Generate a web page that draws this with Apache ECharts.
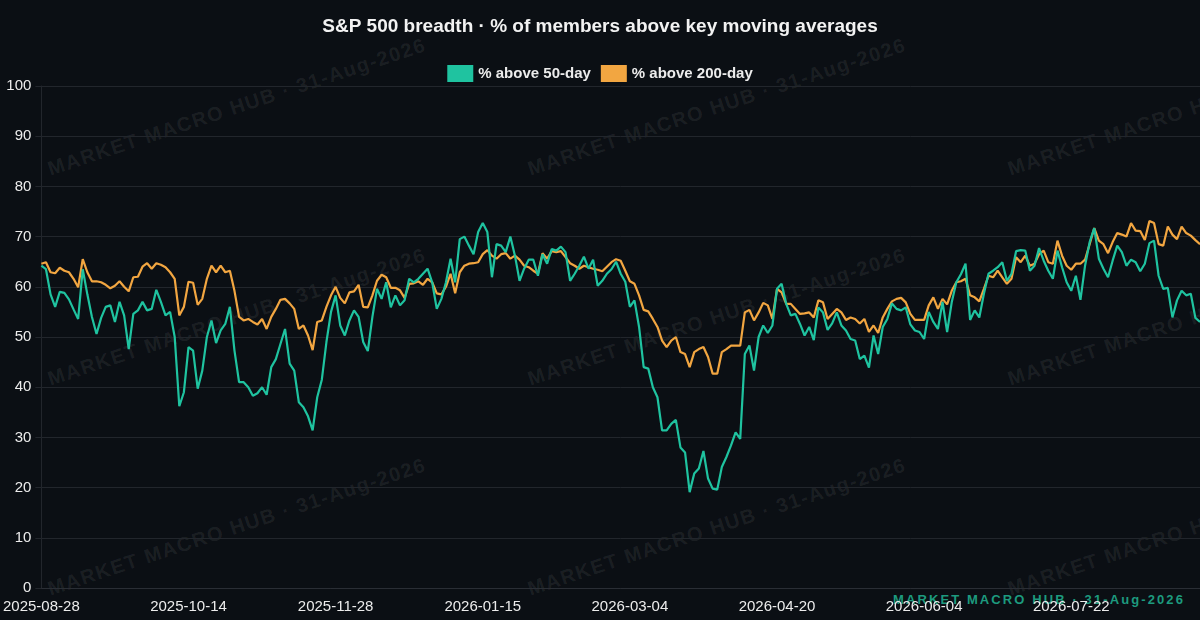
<!DOCTYPE html>
<html>
<head>
<meta charset="utf-8">
<script src="https://cdn.jsdelivr.net/npm/echarts@6/dist/echarts.min.js"></script>
<style>
  html,body{margin:0;padding:0;background:#0b0f14;}
  #wm{position:absolute;left:0;top:0;width:1200px;height:620px;overflow:hidden;z-index:0;}
  #main{position:absolute;left:0;top:0;width:1200px;height:620px;z-index:1;}
  .wmt{position:absolute;white-space:nowrap;font-family:"Liberation Sans",Arial,sans-serif;font-weight:bold;font-size:20px;letter-spacing:1.5px;color:rgba(255,255,255,0.075);transform:translate(-50%,-50%) rotate(-18.4deg);}
  #foot{position:absolute;left:893px;top:591px;white-space:nowrap;font-family:"Liberation Sans",Arial,sans-serif;font-weight:bold;font-size:13px;letter-spacing:2.1px;color:#1d9a7e;z-index:0;line-height:18px;}
</style>
</head>
<body>
<div id="wm"></div>
<div id="foot">MARKET MACRO HUB · 31-Aug-2026</div>
<div id="main"></div>
<script>
const titleText = 'S&P 500 breadth · % of members above key moving averages';
const seriesNames = ['% above 50-day', '% above 200-day'];
const watermarkText = 'MARKET MACRO HUB · 31-Aug-2026';
const startDate = '2025-08-28';
const endDate = '2026-08-31';
const marketHolidays = ['2025-09-01','2025-11-27','2025-12-25','2026-01-01','2026-01-19','2026-02-16','2026-04-03','2026-05-25','2026-06-19','2026-07-03'];

const pct50 = [
64.2,63.5,58.5,56,59,58.8,57.5,55.5,53.6,63.5,
58.5,54,50.6,53.8,56,56.3,53,57,54.3,47.6,
54.6,55.3,57,55.3,55.6,59.4,57,54.3,55,50,
36.2,39,
48,47.3,39.7,43.3,50,53.3,48.8,51.3,52.6,56,
47.3,41,41,40,38.3,38.8,40,38.5,44,45.6,
48.6,51.6,44.7,43.3,37,36,34.2,31.4,38,41.5,
49,55,
58.3,52.3,50.3,53.3,55.3,54,49,47.2,54,59.6,
57.6,60.9,55.9,58.3,56.3,57.3,61.6,60.9,61.6,62.6,
63.6,60.9,55.6,57.6,60.9,65.6,60.9,69.5,70,68.2,
66.5,70.9,72.7,70.9,61.9,68.5,68.2,66.9,70,66.2,
61.2,63.6,65.4,65.4,62.2,66.5,64.6,67.5,67.2,68,
66.9,61.2,62.6,64.2,66,63.6,65.4,60.2,61.2,62.6,63.5,
65,62.6,61,56,57.3,52,44,43.7,40,38,
31.4,31.4,32.7,33.5,28,27,19.1,22.8,23.8,27.3,
21.8,19.8,19.6,24.1,26.1,28.4,31,29.7,46.6,48.3,43.3,50,
52.3,50.8,52.3,59.6,60.6,56.6,54.3,54.6,52.6,50.3,
52,49.4,55.9,54.9,51.4,52.7,54.9,52.3,51.3,49.6,
49.3,45.6,46.3,43.9,50.3,46.6,52,53.6,56.7,55.6,55.3,
55.9,52.5,51.3,51,49.6,55,53,51.6,57,51,
56.9,60.9,62.5,64.6,53.4,55.3,53.9,58.6,62.6,63.2,
63.9,64.9,61.2,62.6,67.1,67.3,67.2,63.2,64.2,67.7,65.2,63.2,
61.6,67.2,63.9,60.9,59.2,62.2,57.4,64.2,68.9,71.7,
65.6,63.6,61.9,65.2,68.2,66.9,64.2,65.4,64.9,63.1,
64.6,68.7,69.2,62.2,59.6,59.8,53.9,57.3,59.2,58.3,58.6,53.8,53
];

const pct200 = [
64.6,64.9,62.9,62.7,63.8,63.2,62.9,61.6,59.9,65.5,
62.9,61.1,61.1,60.9,60.4,59.7,60.2,61.1,60,59.1,
61.9,62,64,64.7,63.6,64.7,64.4,63.9,62.9,61.6,
54.3,56,
61,60.8,56.4,57.6,61.6,64.2,62.9,64.2,62.9,63.2,
59.2,54,53.3,53.6,53,52.5,53.6,51.6,54,55.6,
57.4,57.6,56.7,55.6,51.6,52.3,50.3,47.4,53,53.3,
56,58.3,
60,57.8,56.7,58.9,59.1,60.4,56,55.9,58.3,61.2,
62.4,61.9,59.8,59.8,59.3,57.8,60.6,60.7,61.1,60.4,
61.6,60.9,58.7,58.5,60,62.6,58.7,62.9,64.2,64.6,
64.7,64.9,66.5,67.3,66.2,65.6,66.5,66.7,65.6,66.2,
65.4,64.2,63.9,63.2,62.6,66.7,65.6,67.1,66.9,67.1,
65.9,64.7,64.2,63.6,64.2,63.9,63.6,63.4,63.1,64,64.9,
65.5,65.2,63.2,61.1,60.6,58.3,55.4,55.1,53.6,52,
49.3,48,49.3,50,47,46.6,44,47,47.6,48,
46,42.7,42.7,47,47.6,48.3,48.3,48.3,54.9,55.4,53.3,54.9,
56.8,56.3,53.6,59.6,58.9,56.6,56.6,55.6,54.6,54.7,
54.9,53.9,57.3,56.9,53.6,54.6,55.6,54.9,53.4,53.9,
53.6,52.7,53.6,51,52.3,50.8,53.9,55.6,57.1,57.6,57.8,
56.9,54.6,53.4,53.4,53.4,56.3,57.9,55.6,57.6,56.5,
59.2,60.9,61.1,61.6,58.3,57.9,57.1,59.6,62.2,61.9,
63.2,61.9,60.6,61.6,65.9,64.9,66.2,64.2,64.6,66.5,67.2,64.9,
64.6,69.2,66.2,64.2,63.4,64.6,64.6,65.4,68.5,71.7,
69.2,68.5,66.7,68.9,70.7,70.4,70,72.7,71.2,71.1,
69.3,73.1,72.7,68.5,68.2,72,70.4,69.5,72,70.7,70.2,69.3,68.5
];

// trading-day categories (weekdays minus market holidays)
function tradingDays(a, b, hol) {
  const out = [];
  const d = new Date(a + 'T00:00:00Z');
  const e = new Date(b + 'T00:00:00Z');
  while (d <= e) {
    const s = d.toISOString().slice(0, 10);
    const w = d.getUTCDay();
    if (w !== 0 && w !== 6 && hol.indexOf(s) < 0) out.push(s);
    d.setUTCDate(d.getUTCDate() + 1);
  }
  return out;
}
const dates = tradingDays(startDate, endDate, marketHolidays);

// tiled watermark (behind the chart)
const wm = document.getElementById('wm');
const wmCols = [237, 717, 1197];
const wmRows = [107, 317, 527];
wmRows.forEach(function (cy) {
  wmCols.forEach(function (cx) {
    const s = document.createElement('span');
    s.className = 'wmt';
    s.textContent = watermarkText;
    s.style.left = cx + 'px';
    s.style.top = cy + 'px';
    wm.appendChild(s);
  });
});

const FONT = '"Liberation Sans", Arial, Helvetica, sans-serif';
const GRID = '#22262c';
const chart = echarts.init(document.getElementById('main'), null, {renderer: 'canvas'});
chart.setOption({
  backgroundColor: 'transparent',
  animation: false,
  textStyle: {fontFamily: FONT},
  title: {
    text: titleText,
    left: 'center',
    top: 12,
    textStyle: {color: '#f2f2f2', fontSize: 19, fontWeight: 'bold', fontFamily: FONT}
  },
  legend: {
    top: 60,
    left: 'center',
    icon: 'rect',
    itemWidth: 26,
    itemHeight: 17,
    itemGap: 10,
    textStyle: {color: '#ececec', fontSize: 15, fontWeight: 'bold', fontFamily: FONT},
    data: seriesNames
  },
  grid: {left: 41, right: 0, top: 86, bottom: 32},
  xAxis: {
    type: 'category',
    data: dates,
    boundaryGap: false,
    axisLine: {show: true, lineStyle: {color: '#2a2e35'}},
    axisTick: {show: false},
    axisLabel: {color: '#ececec', fontSize: 15, interval: 31, margin: 11, fontFamily: FONT},
    splitLine: {show: false}
  },
  yAxis: {
    type: 'value',
    min: 0,
    max: 100,
    interval: 10,
    axisLine: {show: true, lineStyle: {color: GRID}},
    axisTick: {show: true, length: 6, lineStyle: {color: GRID}},
    axisLabel: {color: '#ececec', fontSize: 15, margin: 10, fontFamily: FONT},
    splitLine: {show: true, lineStyle: {color: GRID, width: 1}}
  },
  series: [
    {
      name: seriesNames[0],
      type: 'line',
      data: pct50,
      showSymbol: false,
      z: 3,
      lineStyle: {width: 2.2, color: '#1fc3a0'},
      itemStyle: {color: '#1fc3a0'}
    },
    {
      name: seriesNames[1],
      type: 'line',
      data: pct200,
      showSymbol: false,
      z: 2,
      lineStyle: {width: 2.2, color: '#f2a641'},
      itemStyle: {color: '#f2a641'}
    }
  ]
});
</script>
</body>
</html>
